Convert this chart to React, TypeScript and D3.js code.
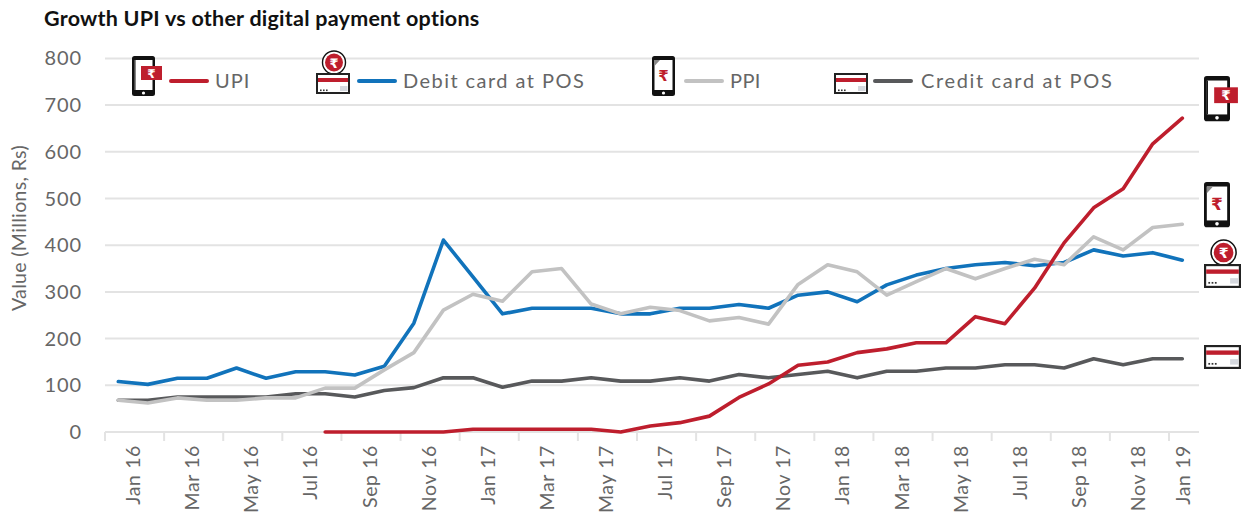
import React from "react";
import * as d3 from "d3";

const FONT = "Lato, 'Noto Sans', sans-serif";
const TICK_LABELS = ["Jan 16","Mar 16","May 16","Jul 16","Sep 16","Nov 16","Jan 17","Mar 17","May 17","Jul 17","Sep 17","Nov 17","Jan 18","Mar 18","May 18","Jul 18","Sep 18","Nov 18","Jan 19"];
const Y_TICKS = [0,100,200,300,400,500,600,700,800];
const DEBIT = [108,102,115,115,137,115,129,129,122,141,233,411,332,253,265,265,265,253,253,265,265,273,265,293,300,279,315,336,350,358,363,356,363,390,377,384,368];
const PPI = [68,62,73,68,68,73,73,94,94,133,170,261,295,280,343,350,274,253,267,260,238,245,231,316,358,343,293,322,350,328,350,370,358,418,390,438,445];
const CREDIT = [68,68,75,75,75,75,82,82,75,89,95,116,116,96,109,109,116,109,109,116,109,123,116,123,130,116,130,130,137,137,144,144,137,157,144,157,157];
const UPI: (number | null)[] = [null,null,null,null,null,null,null,0,0,0,0,0,6,6,6,6,6,0,13,20,34,74,103,143,150,170,178,191,191,247,232,308,405,480,521,617,672];

const RED = "#be1e2d", BLUE = "#1173bb", LIGHT = "#c2c2c2", DARK = "#58595b", TXT = "#666666", GRID = "#e3e3e3";
const SERIES = [
  { name: "Credit card at POS", color: DARK, values: CREDIT },
  { name: "Debit card at POS", color: BLUE, values: DEBIT },
  { name: "PPI", color: LIGHT, values: PPI },
  { name: "UPI", color: RED, values: UPI },
];

const x = d3.scaleLinear().domain([0, 36]).range([118.3, 1182.3]);
const y = d3.scaleLinear().domain([0, 800]).range([432, 58.4]);

function Phone({ px, py, w, flag }: { px: number; py: number; w: number; flag: boolean }) {
  const k = w / 23;
  return (
    <g transform={`translate(${px},${py}) scale(${k})`}>
      <rect x={0} y={0} width={23} height={40} rx={2.5} fill="#111" />
      <rect x={2.5} y={4} width={18} height={30} fill="#fff" />
      <circle cx={11.5} cy={37} r={1.6} fill="#fff" />
      {flag ? (
        <g>
          <rect x={2.5} y={4} width={1} height={30} fill="#111" />
          <rect x={9} y={10} width={21} height={14} fill={RED} />
          <text x={19.5} y={21.5} textAnchor="middle" fontSize={12} fontWeight={700} fontFamily="DejaVu Sans" fill="#fff">₹</text>
        </g>
      ) : (
        <g>
          <path d="M2.5 4 H8 L2.5 10 Z" fill="#888" />
          <text x={11.5} y={25} textAnchor="middle" fontSize={15} fontWeight={700} fontFamily="DejaVu Sans" fill={RED}>₹</text>
        </g>
      )}
    </g>
  );
}

function Card({ px, py, w, h, coin }: { px: number; py: number; w: number; h: number; coin: boolean }) {
  const k = w / 34;
  return (
    <g transform={`translate(${px},${py}) scale(${k})`}>
      {coin && (
        <g>
          <circle cx={18} cy={-10.5} r={11.5} fill="#fff" stroke="#111" strokeWidth={1.4} />
          <circle cx={18} cy={-10.5} r={9} fill={RED} />
          <text x={18} y={-5.5} textAnchor="middle" fontSize={13} fontWeight={700} fontFamily="DejaVu Sans" fill="#fff">₹</text>
        </g>
      )}
      <rect x={1} y={1} width={32} height={(h / k) - 2} fill="#fff" stroke="#222" strokeWidth={2} />
      <rect x={2} y={5} width={30} height={4} fill={RED} />
      <rect x={24} y={13} width={7.5} height={5} fill="#d5d8de" />
      {[4, 7, 10].map((c) => <rect key={c} x={c} y={16.5} width={1.6} height={1.6} fill="#333" />)}
    </g>
  );
}

const LEGEND = [
  { label: "UPI", color: RED, x0: 171, x1: 207, tx: 215, ls: 1.0 },
  { label: "Debit card at POS", color: BLUE, x0: 359, x1: 395, tx: 403, ls: 1.45 },
  { label: "PPI", color: LIGHT, x0: 686, x1: 722, tx: 730, ls: 0.4 },
  { label: "Credit card at POS", color: DARK, x0: 875, x1: 911, tx: 921, ls: 1.65 },
];

export default function App() {
  const line = d3.line<number | null>()
    .defined((d) => d !== null)
    .x((_, i) => x(i))
    .y((d) => y(d as number));
  const tickX = (i: number) => x(i * 2 - 0.45);
  return (
    <svg width={1244} height={516} style={{ position: "absolute", left: 0, top: 0, background: "#fff" }} fontFamily={FONT}>
      <text x={44} y={26} fontSize={21.5} fontWeight={700} letterSpacing={0.24} fill="#111">Growth UPI vs other digital payment options</text>
      {Y_TICKS.map((t) => (
        <g key={t}>
          <line x1={105} x2={1199} y1={y(t)} y2={y(t)} stroke={GRID} strokeWidth={2} />
          <text x={82} y={y(t) + 7} textAnchor="end" fontSize={20} letterSpacing={0.9} fill={TXT}>{t}</text>
        </g>
      ))}
      <text transform="translate(26,228) rotate(-90)" textAnchor="middle" fontSize={19.5} letterSpacing={0.35} fill={TXT}>Value (Millions, Rs)</text>
      {TICK_LABELS.map((l, i) => (
        <g key={l}>
          <line x1={tickX(i)} x2={tickX(i)} y1={432} y2={441} stroke={GRID} strokeWidth={2} />
          <text transform={`translate(${i === 18 ? 1190 : x(i * 2 + 0.5) + 7},445) rotate(-90)`} textAnchor="end" fontSize={19.5} letterSpacing={0.6} fill={TXT}>{l}</text>
        </g>
      ))}
      {SERIES.map((s) => (
        <path key={s.name} d={line(s.values) || ""} fill="none" stroke={s.color} strokeWidth={3.6} strokeLinejoin="round" strokeLinecap="round" />
      ))}
      {LEGEND.map((l) => (
        <g key={l.label}>
          <line x1={l.x0} x2={l.x1} y1={81} y2={81} stroke={l.color} strokeWidth={4} strokeLinecap="round" />
          <text x={l.tx} y={88} fontSize={20} letterSpacing={l.ls} fill={TXT}>{l.label}</text>
        </g>
      ))}
      <Phone px={132} py={56} w={23} flag />
      <Card px={316} py={73} w={34} h={21} coin />
      <Phone px={652} py={56} w={23} flag={false} />
      <Card px={834} py={73} w={34} h={21} coin={false} />
      <Phone px={1204} py={76} w={26} flag />
      <Phone px={1204} py={182} w={26} flag={false} />
      <Card px={1204} py={264} w={37} h={24} coin />
      <Card px={1204} py={345} w={37} h={24} coin={false} />
    </svg>
  );
}
